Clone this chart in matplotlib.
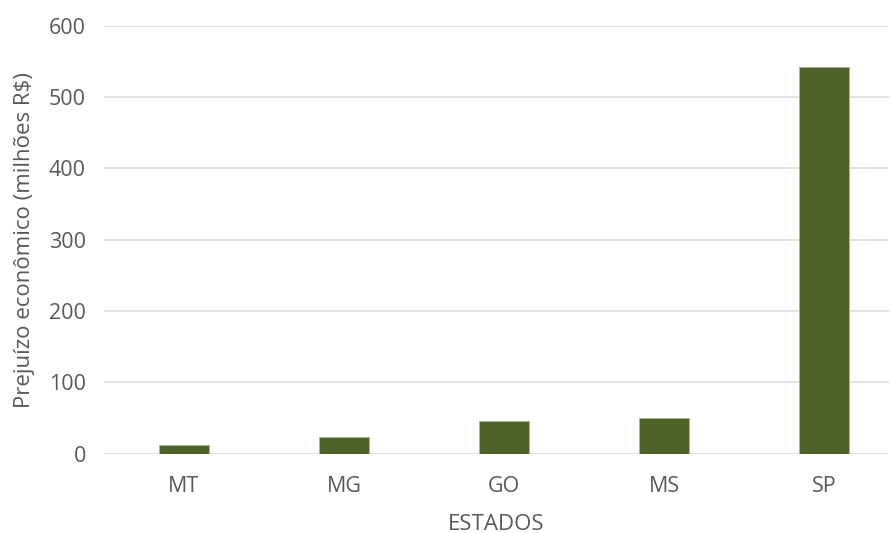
import matplotlib
matplotlib.use("Agg")
import matplotlib.pyplot as plt

estados = ["MT", "MG", "GO", "MS", "SP"]
prejuizo = [12, 23, 46, 49.5, 542]
yticks = [0, 100, 200, 300, 400, 500, 600]

plt.rcParams['font.family'] = ['Open Sans', 'DejaVu Sans']

W, H = 890, 533
fig = plt.figure(figsize=(W / 100, H / 100), dpi=100)
left, right, top, bottom = 104, 889, 25.7, 453.7
ax = fig.add_axes([left / W, 1 - bottom / H, (right - left) / W, (bottom - top) / H])

x = list(range(len(estados)))
ax.bar(x, prejuizo, width=0.3125, color="#4F6228", edgecolor="#A9B88A", linewidth=0.6, zorder=3)

ax.set_xlim(-0.5, (right - 184) / 160)
ax.set_ylim(0, 600)
ax.set_yticks(yticks)
ax.set_xticks(x)
ax.set_xticklabels(estados)
ax.yaxis.grid(True, color="#D9D9D9", linewidth=1.1, zorder=0)
ax.set_axisbelow(True)
for s in ax.spines.values():
    s.set_visible(False)
ax.tick_params(axis="both", length=0, labelsize=15.5, colors="#595959")
ax.tick_params(axis="y", pad=13)
ax.tick_params(axis="x", pad=16)

ax.set_xlabel("ESTADOS", fontsize=16, color="#595959", labelpad=12)
ax.set_ylabel("Prejuízo econômico (milhões R$)", fontsize=16, color="#595959", labelpad=10)

fig.savefig("out.png", dpi=100)
